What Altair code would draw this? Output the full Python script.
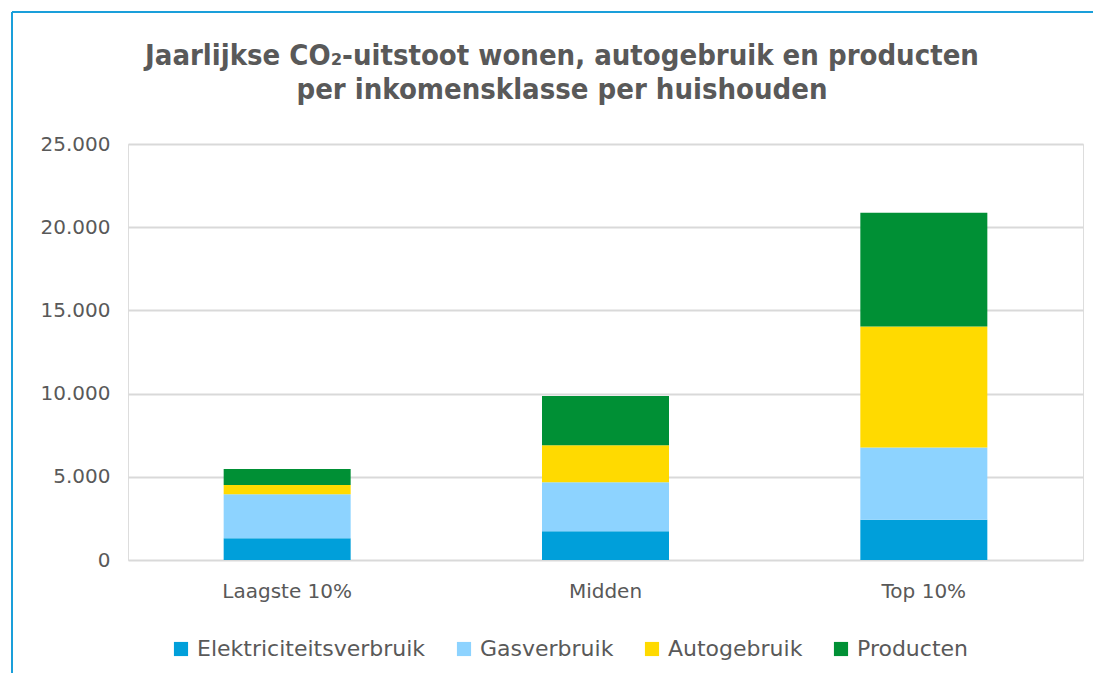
import altair as alt
import pandas as pd

categories = ["Laagste 10%", "Midden", "Top 10%"]
series = ["Elektriciteitsverbruik", "Gasverbruik", "Autogebruik", "Producten"]
colors = ["#009FDA", "#8DD3FF", "#FFDA00", "#009035"]
elektriciteit = [1300, 1730, 2420]
gas = [2650, 2940, 4340]
auto = [560, 2230, 7265]
producten = [960, 2950, 6850]
y_ticks = [0, 5000, 10000, 15000, 20000, 25000]
title_lines = ["Jaarlijkse CO₂-uitstoot wonen, autogebruik en producten",
               "per inkomensklasse per huishouden"]

rows = []
for s_i, (name, vals) in enumerate(zip(series, [elektriciteit, gas, auto, producten])):
    for c, v in zip(categories, vals):
        rows.append({"cat": c, "serie": name, "waarde": v, "idx": s_i})
df = pd.DataFrame(rows)

TXT = "#595959"
FONT = "DejaVu Sans"

bars = alt.Chart(df).mark_bar(size=127).encode(
    x=alt.X("cat:N", sort=categories, title=None,
            scale=alt.Scale(paddingInner=0.6, paddingOuter=0.3),
            axis=alt.Axis(labelAngle=0, labelFontSize=20, labelColor=TXT, labelFont=FONT,
                          labelPadding=21, ticks=False, domain=False, grid=False)),
    y=alt.Y("waarde:Q", title=None, stack="zero",
            scale=alt.Scale(domain=[0, 25000], nice=False),
            axis=alt.Axis(values=y_ticks, labelFontSize=20, labelColor=TXT, labelFont=FONT,
                          labelPadding=18, ticks=False, domain=False,
                          gridColor="#D9D9D9", gridWidth=2,
                          labelExpr="replace(format(datum.value, ','), ',', '.')")),
    color=alt.Color("serie:N", sort=series,
                    scale=alt.Scale(domain=series, range=colors),
                    legend=alt.Legend(title=None, orient="none", direction="horizontal",
                                      columns=4, legendX=42, legendY=494,
                                      symbolType="square", symbolSize=200, symbolStrokeWidth=0,
                                      labelFontSize=22, labelColor=TXT, labelFont=FONT,
                                      labelOffset=5, columnPadding=27, labelLimit=400)),
    order=alt.Order("idx:Q", sort="ascending"),
)

one = pd.DataFrame({"a": [0]})


def title_line(i, ypix):
    return alt.Chart(one).mark_text(
        text=title_lines[i], font="DejaVu Sans Condensed", fontWeight="bold", fontSize=29,
        color=TXT, align="center", baseline="alphabetic", clip=False,
    ).encode(x=alt.value(434), y=alt.value(ypix))


frame_top = alt.Chart(one).mark_rule(color="#1A9FDA", strokeWidth=2, clip=False).encode(
    x=alt.value(-116), x2=alt.value(990), y=alt.value(-132))
frame_left = alt.Chart(one).mark_rule(color="#1A9FDA", strokeWidth=2, clip=False).encode(
    x=alt.value(-116), y=alt.value(-132), y2=alt.value(560))

chart = alt.layer(bars, title_line(0, -79), title_line(1, -45), frame_top, frame_left).properties(
    width=955, height=416,
    autosize=alt.AutoSizeParams(type="none"),
    padding={"left": 120, "top": 136, "right": 10, "bottom": 113},
).configure_view(stroke="#D9D9D9", strokeWidth=2).configure(background="white")

chart.save("out.html", embed_options={"renderer": "svg", "actions": False})
